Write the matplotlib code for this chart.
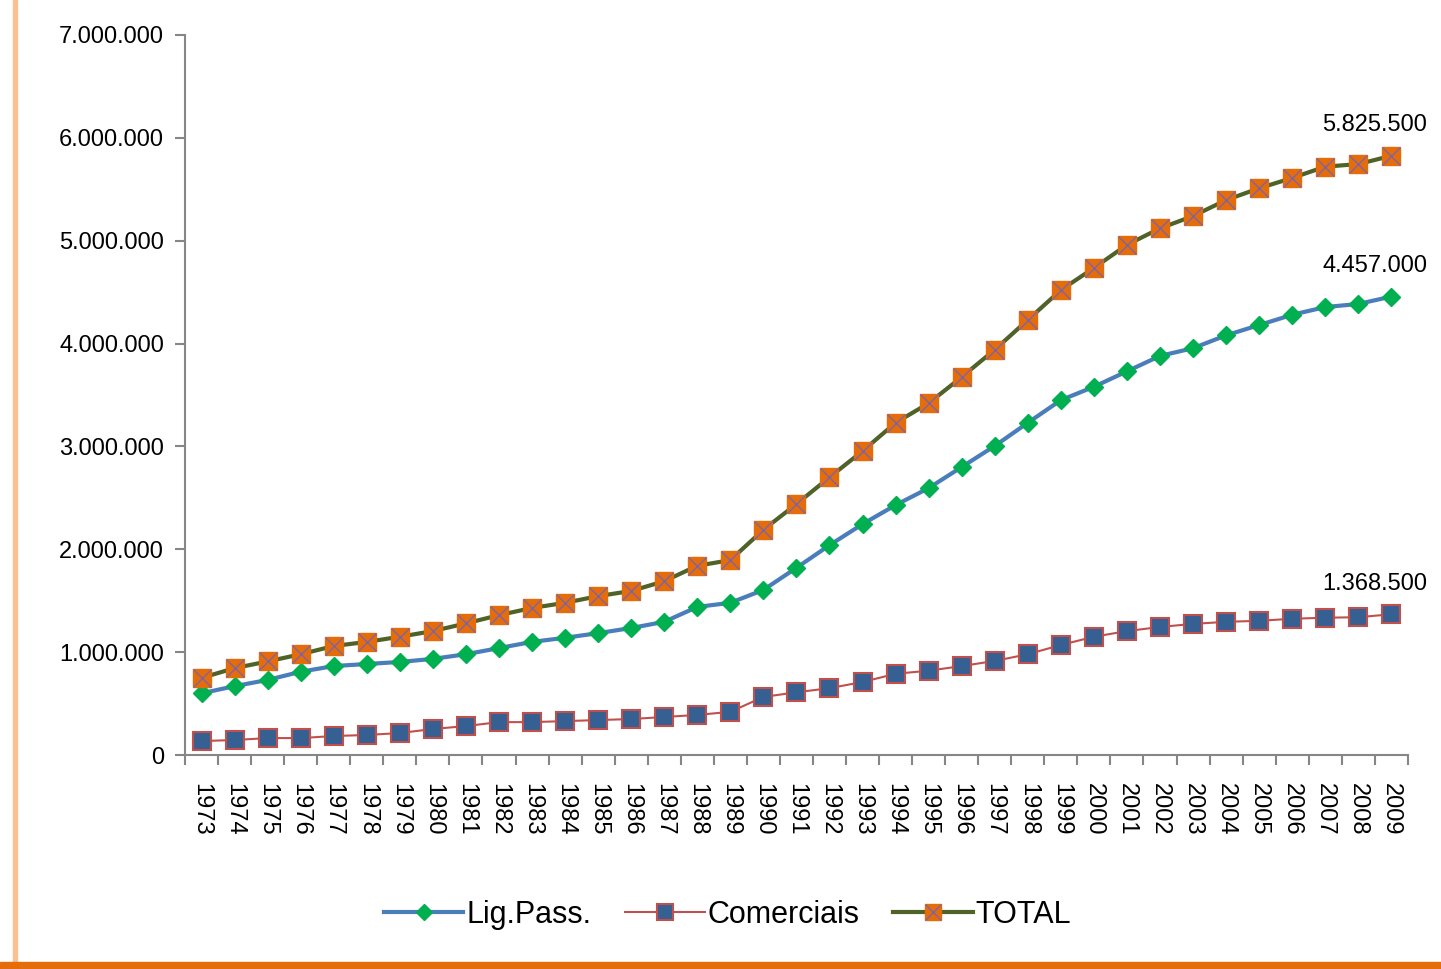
import matplotlib.pyplot as plt
from matplotlib.legend_handler import HandlerTuple
from matplotlib.patches import Rectangle
from matplotlib.ticker import FuncFormatter

plt.rcParams['font.family'] = ['Liberation Sans', 'DejaVu Sans']

# Data (vehicles per year)
years = list(range(1973, 2010))
lig_pass = [600000, 670000, 730000, 810000, 865000, 885000, 905000, 935000, 980000, 1040000,
            1100000, 1140000, 1185000, 1235000, 1295000, 1440000, 1480000, 1605000, 1820000, 2040000,
            2245000, 2430000, 2595000, 2800000, 3005000, 3230000, 3450000, 3580000, 3730000, 3880000,
            3955000, 4080000, 4180000, 4280000, 4355000, 4385000, 4457000]
comerciais = [136000, 146000, 165000, 165000, 185000, 195000, 214000, 253000, 282000, 320000,
              320000, 330000, 340000, 350000, 370000, 390000, 420000, 565000, 610000, 650000,
              710000, 790000, 820000, 865000, 915000, 980000, 1070000, 1150000, 1205000, 1245000,
              1275000, 1295000, 1305000, 1325000, 1335000, 1340000, 1368500]
total = [750000, 845000, 910000, 980000, 1060000, 1100000, 1150000, 1205000, 1280000, 1360000,
         1430000, 1480000, 1545000, 1595000, 1690000, 1840000, 1895000, 2190000, 2440000, 2700000,
         2955000, 3230000, 3420000, 3675000, 3940000, 4230000, 4520000, 4735000, 4960000, 5120000,
         5240000, 5395000, 5510000, 5610000, 5720000, 5745000, 5825500]

def fmt(v):
    return f"{v:,.0f}".replace(",", ".")

fig = plt.figure(figsize=(14.41, 9.69), dpi=100)
ax = fig.add_axes([0.1284, 0.2208, 0.977 - 0.1284, 0.9639 - 0.2208])
x = list(range(len(years)))

l1, = ax.plot(x, lig_pass, color='#4A7EBB', lw=3, marker='D', ms=9,
              mfc='#00B050', mec='#00B050', label='Lig.Pass.', zorder=3)
l2, = ax.plot(x, comerciais, color='#C0504D', lw=1.5, marker='s', ms=13,
              mfc='#376092', mec='#C0504D', mew=1.5, label='Comerciais', zorder=3)
l3, = ax.plot(x, total, color='#4F6228', lw=3, marker='s', ms=13,
              mfc='#E46C0A', mec='#E46C0A', label='TOTAL', zorder=3)
l3x, = ax.plot(x, total, ls='none', marker='x', ms=13, mec='#8064A2', mew=1, zorder=4)

for series in (total, lig_pass, comerciais):
    ax.annotate(fmt(series[-1]), (x[-1], series[-1]), xytext=(-12, 22),
                textcoords='offset points', ha='center', va='center', fontsize=17)

ax.set_xlim(-0.5, len(years) - 0.5)
ax.set_ylim(0, 7000000)
ax.set_yticks(range(0, 7000001, 1000000))
ax.yaxis.set_major_formatter(FuncFormatter(lambda v, p: fmt(v)))
ax.set_xticks(x)
ax.set_xticklabels([str(y) for y in years], rotation=270)
ax.set_xticks([i - 0.5 for i in range(len(years) + 1)], minor=True)
ax.tick_params(axis='x', which='major', length=0, labelsize=17, pad=20)
ax.tick_params(axis='x', which='minor', length=7, color='#868686', width=1.5)
ax.tick_params(axis='y', length=7, color='#868686', width=1.5, labelsize=17, pad=8)
for s in ('top', 'right'):
    ax.spines[s].set_visible(False)
for s in ('left', 'bottom'):
    ax.spines[s].set_color('#868686')
    ax.spines[s].set_linewidth(1.5)

ax.legend([l1, l2, (l3, l3x)], ['Lig.Pass.', 'Comerciais', 'TOTAL'],
          handler_map={tuple: HandlerTuple(ndivide=1, pad=0)},
          loc='center', bbox_to_anchor=(0.505, 0.056), bbox_transform=fig.transFigure,
          ncol=3, frameon=False, fontsize=22, handlelength=2.6, handletextpad=0.1,
          columnspacing=1.1, markerscale=0.85)

# frame decoration
fig.patches.append(Rectangle((0.009, 0.0), 0.0025, 1.0, transform=fig.transFigure,
                             color='#FAC090', zorder=0))
fig.patches.append(Rectangle((0.0, 0.0), 1.0, 0.007, transform=fig.transFigure,
                             color='#E46C0A', zorder=0))

fig.savefig('out.png', dpi=100)
